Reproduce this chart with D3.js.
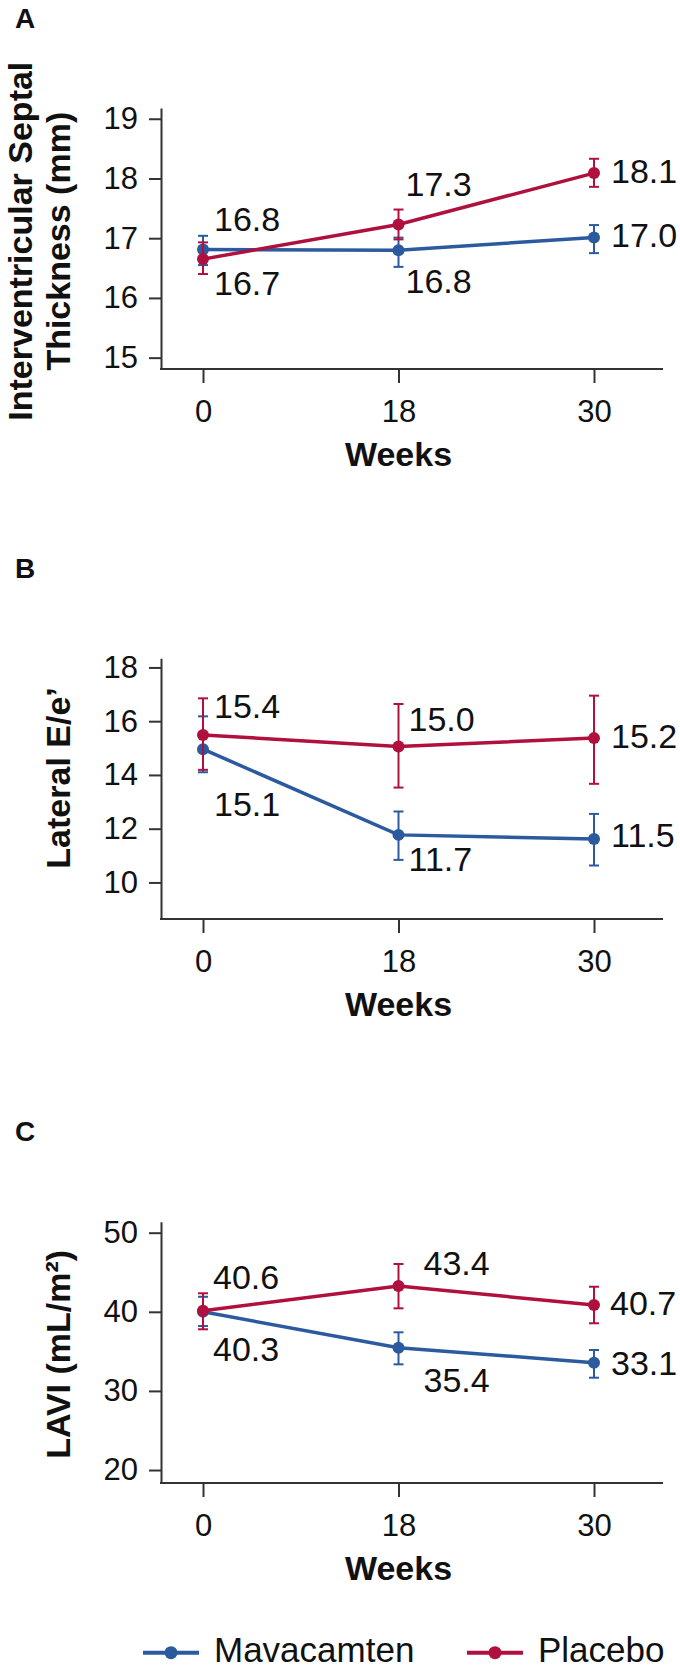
<!DOCTYPE html>
<html>
<head>
<meta charset="utf-8">
<script src="https://cdn.jsdelivr.net/npm/d3@7"></script>
<style>
  html, body { margin: 0; padding: 0; background: #fff; }
  svg { display: block; }
  text { font-family: "Liberation Sans", Arial, Helvetica, sans-serif; fill: #111; }
</style>
</head>
<body>
<div id="chart"></div>
<script>
// Echo outcomes over time, mean ± CI, three stacked panels.
const weeks = ['0', '18', '30'];
const seriesNames = ['Mavacamten', 'Placebo'];

// A - interventricular septal thickness (mm)
const isstTicks = [15, 16, 17, 18, 19];
const isstExtent = [14.81, 19.18];
const isstMava = [16.81, 16.80, 17.01];
const isstMavaLo = [16.55, 16.52, 16.75];
const isstMavaHi = [17.04, 17.01, 17.22];
const isstPla = [16.65, 17.23, 18.09];
const isstPlaLo = [16.40, 16.98, 17.86];
const isstPlaHi = [16.93, 17.48, 18.33];
const isstMavaLabels = ['16.8', '16.8', '17.0'];
const isstPlaLabels = ['16.7', '17.3', '18.1'];

// B - lateral E/e'
const eeTicks = [10, 12, 14, 16, 18];
const eeExtent = [8.64, 18.34];
const eeMava = [14.96, 11.77, 11.62];
const eeMavaLo = [14.10, 10.84, 10.63];
const eeMavaHi = [16.18, 12.64, 12.55];
const eePla = [15.49, 15.06, 15.37];
const eePlaLo = [14.19, 13.53, 13.67];
const eePlaHi = [16.85, 16.64, 16.95];
const eeMavaLabels = ['15.1', '11.7', '11.5'];
const eePlaLabels = ['15.4', '15.0', '15.2'];

// C - LAVI (mL/m2)
const laviTicks = [20, 30, 40, 50];
const laviExtent = [18.36, 51.39];
const laviMava = [40.00, 35.46, 33.57];
const laviMavaLo = [38.20, 33.36, 31.67];
const laviMavaHi = [41.90, 37.41, 35.17];
const laviPla = [40.14, 43.26, 40.86];
const laviPlaLo = [37.79, 40.44, 38.55];
const laviPlaHi = [42.34, 46.04, 43.17];
const laviMavaLabels = ['40.3', '35.4', '33.1'];
const laviPlaLabels = ['40.6', '43.4', '40.7'];

// label nudges [dx, dy to baseline] from each dot -- hand placed in the original
const isstNudge = { mava: [[11, -19], [7, 43], [17, 9]], pla: [[11, 36], [7, -28], [17, 10]] };
const eeNudge = { mava: [[11, 67], [10, 36], [17, 8]], pla: [[11, -17], [10, -15], [17, 10]] };
const laviNudge = { mava: [[10, 49], [25, 44], [17, 12]], pla: [[10, -22], [25, -11], [16, 10]] };

const COLORS = { Mavacamten: '#2b5a9e', Placebo: '#b0103e' };
const AXIS = '#333';

const W = 680, H = 1674;
const axisX = 161, axisRight = 663;

const panels = [
  { letter: 'A', letterY: 28, top: 108, bottom: 369, title: ['Interventricular Septal', 'Thickness (mm)'],
    ticks: isstTicks, extent: isstExtent, nudge: isstNudge,
    series: [
      { name: 'Mavacamten', mean: isstMava, lo: isstMavaLo, hi: isstMavaHi, labels: isstMavaLabels, key: 'mava' },
      { name: 'Placebo', mean: isstPla, lo: isstPlaLo, hi: isstPlaHi, labels: isstPlaLabels, key: 'pla' }
    ] },
  { letter: 'B', letterY: 578, top: 658.3, bottom: 919, title: ['Lateral E/e\u2019'],
    ticks: eeTicks, extent: eeExtent, nudge: eeNudge,
    series: [
      { name: 'Mavacamten', mean: eeMava, lo: eeMavaLo, hi: eeMavaHi, labels: eeMavaLabels, key: 'mava' },
      { name: 'Placebo', mean: eePla, lo: eePlaLo, hi: eePlaHi, labels: eePlaLabels, key: 'pla' }
    ] },
  { letter: 'C', letterY: 1140.5, top: 1221.7, bottom: 1483, title: ['LAVI (mL/m\u00b2)'],
    ticks: laviTicks, extent: laviExtent, nudge: laviNudge,
    series: [
      { name: 'Mavacamten', mean: laviMava, lo: laviMavaLo, hi: laviMavaHi, labels: laviMavaLabels, key: 'mava' },
      { name: 'Placebo', mean: laviPla, lo: laviPlaLo, hi: laviPlaHi, labels: laviPlaLabels, key: 'pla' }
    ] }
];

const svg = d3.select('#chart').append('svg')
  .attr('width', W).attr('height', H)
  .attr('viewBox', [0, 0, W, H]);
svg.append('rect').attr('width', W).attr('height', H).attr('fill', '#fff');

const x = d3.scalePoint().domain(weeks).range([203, 594]);

panels.forEach(p => {
  const y = d3.scaleLinear().domain(p.extent).range([p.bottom, p.top]);
  const g = svg.append('g');

  g.append('text').attr('x', 15).attr('y', p.letterY)
    .style('font-size', '28px').style('font-weight', 'bold').text(p.letter);

  // y axis
  const ya = g.append('g').attr('transform', `translate(${axisX},0)`)
    .call(d3.axisLeft(y).tickValues(p.ticks).tickSize(12).tickSizeOuter(0).tickPadding(11).tickFormat(d3.format('d')));
  ya.select('.domain').attr('stroke', AXIS).attr('stroke-width', 2);
  ya.selectAll('.tick line').attr('stroke', AXIS).attr('stroke-width', 2);
  ya.selectAll('.tick text').style('font-size', '31px').attr('fill', '#111')
    .style('font-family', '"Liberation Sans", Arial, sans-serif');

  // x axis
  const xa = g.append('g').attr('transform', `translate(0,${p.bottom})`)
    .call(d3.axisBottom(x).tickSize(14).tickPadding(17));
  xa.select('.domain').remove();
  xa.append('line').attr('x1', axisX - 1).attr('x2', axisRight)
    .attr('stroke', AXIS).attr('stroke-width', 2);
  xa.selectAll('.tick line').attr('stroke', AXIS).attr('stroke-width', 2);
  xa.selectAll('.tick text').style('font-size', '31px').attr('fill', '#111')
    .style('font-family', '"Liberation Sans", Arial, sans-serif');

  g.append('text').attr('x', x('18')).attr('y', p.bottom + 97)
    .attr('text-anchor', 'middle').style('font-size', '34px').style('font-weight', 'bold').text('Weeks');

  // rotated y title
  const cy = (y(p.ticks[0]) + y(p.ticks[p.ticks.length - 1])) / 2 + 3;
  const bases = p.title.length === 2 ? [31.5, 69.5] : [69.5];
  p.title.forEach((t, i) => {
    g.append('text').attr('transform', `translate(${bases[i]},${cy}) rotate(-90)`)
      .attr('text-anchor', 'middle').style('font-size', '34px').style('font-weight', 'bold').text(t);
  });

  // series: mavacamten first so placebo sits on top
  p.series.forEach(s => {
    const c = COLORS[s.name];
    const pts = weeks.map((w, i) => ({ w, m: s.mean[i], lo: s.lo[i], hi: s.hi[i], label: s.labels[i], i }));
    const sg = g.append('g');
    const eb = sg.selectAll('g.err').data(pts).join('g').attr('class', 'err')
      .attr('stroke', c).attr('stroke-width', 2);
    eb.append('line').attr('x1', d => x(d.w)).attr('x2', d => x(d.w)).attr('y1', d => y(d.lo)).attr('y2', d => y(d.hi));
    eb.append('line').attr('x1', d => x(d.w) - 5).attr('x2', d => x(d.w) + 5).attr('y1', d => y(d.lo)).attr('y2', d => y(d.lo));
    eb.append('line').attr('x1', d => x(d.w) - 5).attr('x2', d => x(d.w) + 5).attr('y1', d => y(d.hi)).attr('y2', d => y(d.hi));

    sg.append('path').datum(pts)
      .attr('fill', 'none').attr('stroke', c).attr('stroke-width', 3.5)
      .attr('d', d3.line().x(d => x(d.w)).y(d => y(d.m)));

    sg.selectAll('circle').data(pts).join('circle')
      .attr('cx', d => x(d.w)).attr('cy', d => y(d.m)).attr('r', 6).attr('fill', c);

    sg.selectAll('text.val').data(pts).join('text').attr('class', 'val')
      .attr('x', d => x(d.w) + p.nudge[s.key][d.i][0])
      .attr('y', d => y(d.m) + p.nudge[s.key][d.i][1])
      .style('font-size', '34px').text(d => d.label);
  });
});

// legend
const legendY = 1652.7;
const legend = svg.append('g');
const legendX = { Mavacamten: 143, Placebo: 467 };
seriesNames.forEach(n => {
  const lx = legendX[n];
  legend.append('line').attr('x1', lx).attr('x2', lx + 56).attr('y1', legendY).attr('y2', legendY)
    .attr('stroke', COLORS[n]).attr('stroke-width', 4);
  legend.append('circle').attr('cx', lx + 28).attr('cy', legendY).attr('r', 6.5).attr('fill', COLORS[n]);
  legend.append('text').attr('x', lx + 71).attr('y', legendY + 9).style('font-size', '35px').text(n);
});
</script>
</body>
</html>
